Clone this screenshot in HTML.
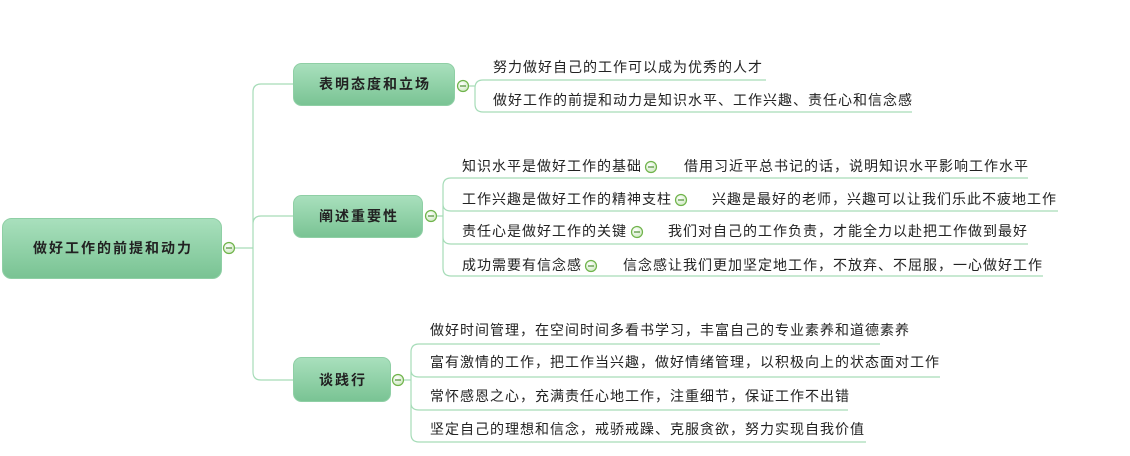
<!DOCTYPE html>
<html><head><meta charset="utf-8"><style>
html,body{margin:0;padding:0;background:#fff;}
svg{display:block;}
text{font-family:"Liberation Sans","Noto Sans CJK SC",sans-serif;fill:#222;}
.t{font-size:14px;letter-spacing:1px;dominant-baseline:central;}
.b{font-size:14px;font-weight:bold;dominant-baseline:central;text-anchor:middle;letter-spacing:2px;}
.l{stroke:#a6dcb8;stroke-width:1.2;fill:none;}
</style></head><body>
<svg width="1130" height="456" viewBox="0 0 1130 456">
<defs>
<linearGradient id="g" x1="0" y1="0" x2="0" y2="1"><stop offset="0" stop-color="#a9e0bd"/><stop offset="1" stop-color="#79c393"/></linearGradient>
<radialGradient id="c" cx="0.4" cy="0.35" r="0.7"><stop offset="0" stop-color="#fff"/><stop offset="1" stop-color="#cde8c0"/></radialGradient>
<g id="m"><circle r="5.5" fill="url(#c)" stroke="#6fb34a" stroke-width="1.2"/><line x1="-3" y1="0" x2="3" y2="0" stroke="#4f8f34" stroke-width="1.2"/></g>
</defs>
<path class="l" d="M235 248 H253 M293 84 H261 Q253 84 253 92 V372 Q253 380 261 380 H293 M253 224 Q253 216 261 216 H293"/>
<rect x="2.5" y="218.5" width="219" height="60" rx="9" fill="url(#g)" stroke="#8fcfa5"/>
<text class="b" x="113" y="248">做好工作的前提和动力</text>
<use href="#m" x="229" y="248"/>
<rect x="293.5" y="63.5" width="161" height="42" rx="8" fill="url(#g)" stroke="#8fcfa5"/>
<text class="b" x="375" y="84">表明态度和立场</text>
<use href="#m" x="463" y="86"/>
<rect x="293.5" y="195.5" width="129" height="42" rx="8" fill="url(#g)" stroke="#8fcfa5"/>
<text class="b" x="359" y="216">阐述重要性</text>
<use href="#m" x="431" y="216"/>
<rect x="293.5" y="357.5" width="97" height="44" rx="8" fill="url(#g)" stroke="#8fcfa5"/>
<text class="b" x="343" y="380">谈践行</text>
<use href="#m" x="398" y="380"/>
<path class="l" d="M469 86 H475 M766 80 H483 Q475 80 475 88 V104 Q475 112 483 112 H912"/>
<text class="t" x="493" y="67">努力做好自己的工作可以成为优秀的人才</text>
<text class="t" x="493" y="100">做好工作的前提和动力是知识水平、工作兴趣、责任心和信念感</text>
<path class="l" d="M437 216 H443 M1028 178 H451 Q443 178 443 186 V268 Q443 276 451 276 H1043 M443 204 Q443 211 451 211 H1058 M443 237 Q443 244 451 244 H1028"/>
<text class="t" x="462" y="166">知识水平是做好工作的基础</text><use href="#m" x="651" y="167"/>
<text class="t" x="684" y="166">借用习近平总书记的话，说明知识水平影响工作水平</text>
<text class="t" x="462" y="199">工作兴趣是做好工作的精神支柱</text><use href="#m" x="681" y="200"/>
<text class="t" x="712" y="199">兴趣是最好的老师，兴趣可以让我们乐此不疲地工作</text>
<text class="t" x="462" y="231">责任心是做好工作的关键</text><use href="#m" x="637" y="232"/>
<text class="t" x="668" y="231">我们对自己的工作负责，才能全力以赴把工作做到最好</text>
<text class="t" x="462" y="265">成功需要有信念感</text><use href="#m" x="591" y="266"/>
<text class="t" x="623" y="265">信念感让我们更加坚定地工作，不放弃、不屈服，一心做好工作</text>
<path class="l" d="M404 380 H411 M880 344 H419 Q411 344 411 352 V434 Q411 442 419 442 H866 M411 370 Q411 377 419 377 H940 M411 403 Q411 410 419 410 H848"/>
<text class="t" x="430" y="330">做好时间管理，在空间时间多看书学习，丰富自己的专业素养和道德素养</text>
<text class="t" x="430" y="362">富有激情的工作，把工作当兴趣，做好情绪管理，以积极向上的状态面对工作</text>
<text class="t" x="430" y="396">常怀感恩之心，充满责任心地工作，注重细节，保证工作不出错</text>
<text class="t" x="430" y="429">坚定自己的理想和信念，戒骄戒躁、克服贪欲，努力实现自我价值</text>
</svg>
</body></html>
